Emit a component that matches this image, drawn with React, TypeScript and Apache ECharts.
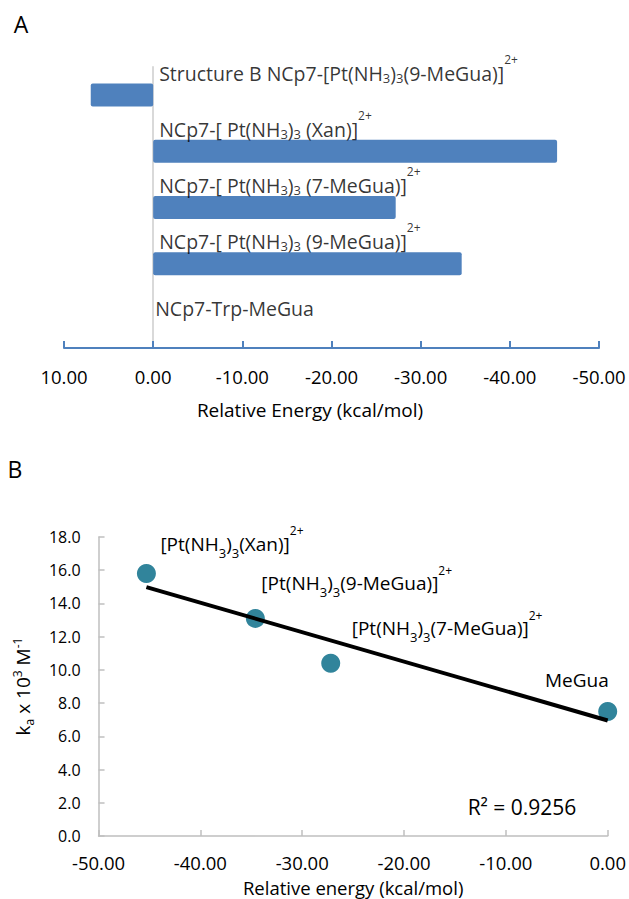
import React, { useEffect, useRef } from "react";
import * as echarts from "echarts";

// ---------- Panel A data ----------
const categoriesA = [
  "Structure B NCp7-[Pt(NH3)3(9-MeGua)]2+",
  "NCp7-[ Pt(NH3)3 (Xan)]2+",
  "NCp7-[ Pt(NH3)3 (7-MeGua)]2+",
  "NCp7-[ Pt(NH3)3 (9-MeGua)]2+",
  "NCp7-Trp-MeGua",
];
const relEnergyA = [7.0, -45.3, -27.2, -34.6, 0];
const xTicksA = [10, 0, -10, -20, -30, -40, -50];

// ---------- Panel B data ----------
const compoundsB = [
  "[Pt(NH3)3(Xan)]2+",
  "[Pt(NH3)3(9-MeGua)]2+",
  "[Pt(NH3)3(7-MeGua)]2+",
  "MeGua",
];
const energyB = [-45.3, -34.6, -27.2, 0];
const kaB = [15.8, 13.1, 10.4, 7.5];
const xTicksB = [-50, -40, -30, -20, -10, 0];
const yTicksB = [0, 2, 4, 6, 8, 10, 12, 14, 16, 18];
const r2Text = "R² = 0.9256";

const FONT = "'Open Sans', 'Noto Sans', sans-serif";
const TXT = "#000000";
const BAR = "#4F81BD";
const DOT = "#31849B";
const GRAY = "#BFBFBF";

function toRich(s: string): string {
  return s
    .replace(/NH3\)3/g, "NH{sub|3}){sub|3}")
    .replace(/2\+$/, "{sup|2+}");
}

// least-squares trendline from data
function trendline(xs: number[], ys: number[]): number[][] {
  const n = xs.length;
  const mx = xs.reduce((a, b) => a + b, 0) / n;
  const my = ys.reduce((a, b) => a + b, 0) / n;
  let sxy = 0;
  let sxx = 0;
  for (let i = 0; i < n; i++) {
    sxy += (xs[i] - mx) * (ys[i] - my);
    sxx += (xs[i] - mx) * (xs[i] - mx);
  }
  const slope = sxy / sxx;
  const icpt = my - slope * mx;
  const x0 = Math.min(...xs);
  const x1 = Math.max(...xs);
  return [
    [x0, icpt + slope * x0],
    [x1, icpt + slope * x1],
  ];
}

const labelLayoutB = [
  { offset: [14, -30], align: "left" },
  { offset: [6, -35], align: "left" },
  { offset: [21, -35], align: "left" },
  { offset: [1, -31], align: "right" },
];

function buildOption(): any {
  const richA = {
    sub: {
      fontSize: 13,
      fontFamily: FONT,
      color: TXT,
      verticalAlign: "middle",
      padding: [9, 0, 0, 0],
    },
    sup: { fontSize: 12, fontFamily: FONT, color: TXT, verticalAlign: "top" },
  };
  const richB = {
    sub: {
      fontSize: 13,
      fontFamily: FONT,
      color: TXT,
      verticalAlign: "middle",
      padding: [18, 0, 0, 0],
    },
    sup: { fontSize: 12, fontFamily: FONT, color: TXT, verticalAlign: "top" },
  };

  return {
    animation: false,
    backgroundColor: "#ffffff",
    textStyle: { fontFamily: FONT, color: TXT },
    grid: [
      { left: 64, width: 535, top: 67, height: 281, containLabel: false },
      { left: 98, width: 511, top: 537, height: 299, containLabel: false },
    ],
    xAxis: [
      {
        gridIndex: 0,
        type: "value",
        inverse: true,
        min: Math.min(...xTicksA),
        max: Math.max(...xTicksA),
        interval: 10,
        axisLine: { show: true, onZero: false, lineStyle: { color: BAR, width: 2 } },
        axisTick: { show: true, inside: true, length: 7, lineStyle: { color: BAR, width: 2 } },
        axisLabel: {
          margin: 19,
          fontSize: 18.5,
          fontFamily: FONT,
          color: TXT,
          formatter: (v: number) => v.toFixed(2),
        },
        splitLine: { show: false },
      },
      {
        gridIndex: 1,
        type: "value",
        min: Math.min(...xTicksB),
        max: Math.max(...xTicksB),
        interval: 10,
        axisLine: { show: true, onZero: false, lineStyle: { color: GRAY, width: 1.5 } },
        axisTick: { show: true, inside: true, length: 6, lineStyle: { color: GRAY, width: 1.5 } },
        axisLabel: {
          margin: 16,
          fontSize: 18.5,
          lineHeight: 20,
          fontFamily: FONT,
          color: TXT,
          formatter: (v: number) => v.toFixed(2),
        },
        splitLine: { show: false },
        name: "Relative energy (kcal/mol)",
        nameLocation: "middle",
        nameGap: 41,
        nameTextStyle: { fontSize: 18.5, lineHeight: 20, fontFamily: FONT, color: TXT },
      },
    ],
    yAxis: [
      {
        gridIndex: 0,
        type: "category",
        inverse: true,
        data: categoriesA,
        axisLine: { show: true, onZero: true, lineStyle: { color: "#D9D9D9", width: 2 } },
        axisTick: { show: false },
        axisLabel: { show: false },
        splitLine: { show: false },
      },
      {
        gridIndex: 1,
        type: "value",
        min: Math.min(...yTicksB),
        max: Math.max(...yTicksB),
        interval: 2,
        axisLine: { show: true, onZero: false, lineStyle: { color: GRAY, width: 1.5 } },
        axisTick: { show: true, inside: true, length: 6, lineStyle: { color: GRAY, width: 1.5 } },
        axisLabel: {
          margin: 18,
          fontSize: 16,
          fontFamily: FONT,
          color: TXT,
          formatter: (v: number) => v.toFixed(1),
        },
        splitLine: { show: false },
        name: "k{sub|a} x 10{sup|3} M{sup|-1}",
        nameLocation: "middle",
        nameGap: 52,
        nameTextStyle: {
          fontSize: 19,
          fontFamily: FONT,
          color: TXT,
          lineHeight: 30,
          rich: {
            sub: {
              fontSize: 12,
              fontFamily: FONT,
              color: TXT,
              verticalAlign: "middle",
              padding: [12, 0, 0, 0],
            },
            sup: {
              fontSize: 12,
              fontFamily: FONT,
              color: TXT,
              verticalAlign: "middle",
              padding: [0, 0, 12, 0],
            },
          },
        },
      },
    ],
    series: [
      {
        type: "bar",
        xAxisIndex: 0,
        yAxisIndex: 0,
        data: relEnergyA,
        barWidth: 23,
        itemStyle: { color: BAR, borderRadius: 2 },
        z: 2,
      },
      {
        type: "scatter",
        xAxisIndex: 0,
        yAxisIndex: 0,
        symbolSize: 1,
        itemStyle: { color: "transparent" },
        silent: true,
        z: 5,
        data: categoriesA.map((c, i) => ({
          value: [0, i],
          label: {
            show: true,
            position: "inside",
            align: "left",
            verticalAlign: "middle",
            offset: relEnergyA[i] === 0 ? [2, -11] : [6, -22],
            formatter: toRich(c),
            fontSize: 19.5,
            fontFamily: FONT,
            color: TXT,
            lineHeight: 40,
            rich: richA,
          },
        })),
      },
      {
        type: "scatter",
        xAxisIndex: 1,
        yAxisIndex: 1,
        symbolSize: 19,
        itemStyle: { color: DOT, opacity: 1 },
        z: 3,
        data: energyB.map((x, i) => ({
          value: [x, kaB[i]],
          label: {
            show: true,
            position: "inside",
            align: labelLayoutB[i].align,
            verticalAlign: "middle",
            offset: labelLayoutB[i].offset,
            formatter: toRich(compoundsB[i]),
            fontSize: 19,
            fontFamily: FONT,
            color: TXT,
            lineHeight: 38,
            rich: richB,
          },
        })),
      },
      {
        type: "line",
        xAxisIndex: 1,
        yAxisIndex: 1,
        data: trendline(energyB, kaB),
        symbol: "none",
        lineStyle: { color: "#000000", width: 4 },
        z: 4,
        silent: true,
      },
    ],
    graphic: [
      {
        type: "text",
        x: 21,
        y: 24,
        style: { text: "A", fontSize: 23, fontFamily: FONT, fill: TXT, textAlign: "center", textVerticalAlign: "middle" },
      },
      {
        type: "text",
        x: 15,
        y: 469,
        style: { text: "B", fontSize: 23, fontFamily: FONT, fill: TXT, textAlign: "center", textVerticalAlign: "middle" },
      },
      {
        type: "text",
        x: 310,
        y: 410,
        style: {
          text: "Relative Energy (kcal/mol)",
          fontSize: 19,
          fontFamily: FONT,
          fill: TXT,
          textAlign: "center",
          textVerticalAlign: "middle",
        },
      },
      {
        type: "text",
        x: 522,
        y: 807,
        style: { text: r2Text, fontSize: 21, fontFamily: FONT, fill: TXT, textAlign: "center", textVerticalAlign: "middle" },
      },
    ],
  };
}

export default function App() {
  const ref = useRef<HTMLDivElement>(null);
  useEffect(() => {
    document.body.style.margin = "0";
    const chart = echarts.init(ref.current as HTMLDivElement, null, { renderer: "svg" });
    chart.setOption(buildOption());
    return () => {
      chart.dispose();
    };
  }, []);
  return <div ref={ref} style={{ width: 629, height: 899 }} />;
}
